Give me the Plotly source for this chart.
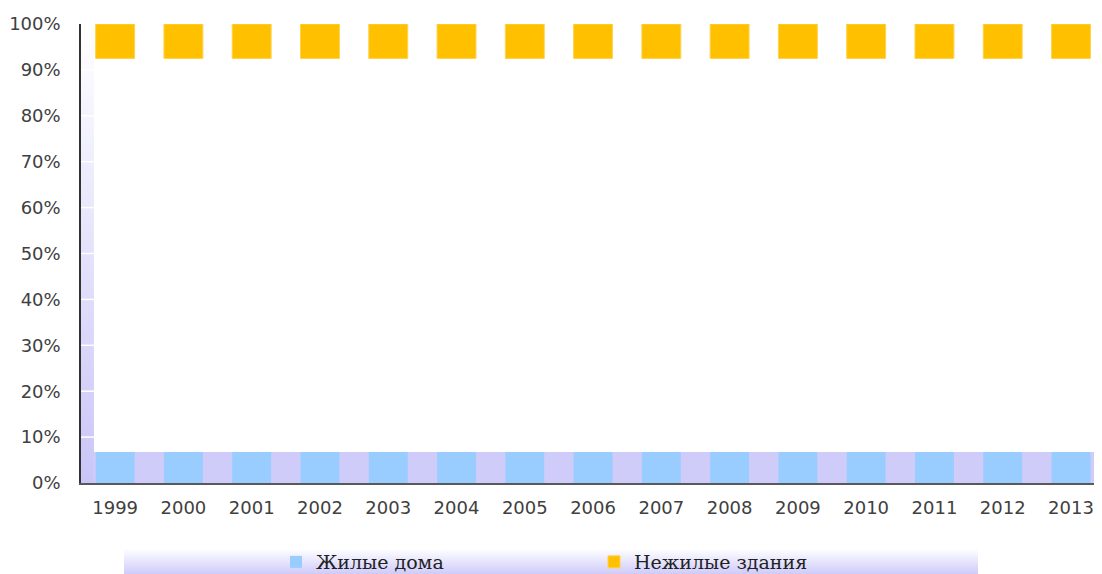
import plotly.graph_objects as go

years = ["1999", "2000", "2001", "2002", "2003", "2004", "2005", "2006",
         "2007", "2008", "2009", "2010", "2011", "2012", "2013"]
zhilye = [6.75, 6.75, 6.75, 6.75, 6.75, 6.75, 6.75, 6.75,
          6.75, 6.75, 6.75, 6.75, 6.75, 6.75, 6.75]
nezhilye = [7.5, 7.5, 7.5, 7.5, 7.5, 7.5, 7.5, 7.5,
            7.5, 7.5, 7.5, 7.5, 7.5, 7.5, 7.5]
y_ticks = [0, 10, 20, 30, 40, 50, 60, 70, 80, 90, 100]
y_labels = [f"{v}%" for v in y_ticks]

OFF = 8  # page body margin
W, H = 1102 - 2 * OFF, 574 - OFF
ML, MR, MT, MB = 81 - OFF, 0, 24 - OFF, 574 - 483
x_lo, x_hi = -0.5, 14.337
wall_w = 0.19
floor_h = 6.75

fig = go.Figure()

# left wall with vertical gradient
fig.add_trace(go.Scatter(
    x=[x_lo, x_lo + wall_w, x_lo + wall_w, x_lo, x_lo],
    y=[0, 0, 100, 100, 0],
    fill="toself", mode="none", hoverinfo="skip", showlegend=False,
    fillgradient=dict(type="vertical", start=0, stop=100,
                      colorscale=[[0, "#C9C5F8"], [1, "#FFFFFF"]]),
))

fig.add_trace(go.Bar(
    x=list(range(len(years))), y=zhilye, base=0, name="Жилые дома",
    marker=dict(color="#99CCFF", line=dict(width=0)), width=0.57,
))
fig.add_trace(go.Bar(
    x=list(range(len(years))), y=nezhilye,
    base=[100 - v for v in nezhilye], name="Нежилые здания",
    marker=dict(color="#FFC000", line=dict(color="#FFD24D", width=1)), width=0.57,
))

shapes = []
# floor
shapes.append(dict(type="rect", xref="x", yref="y", x0=x_lo + wall_w, x1=x_hi,
                   y0=0, y1=floor_h, fillcolor="#D0CCFA", line=dict(width=0),
                   layer="below"))
# white grid marks on wall
for t in y_ticks[1:-1]:
    shapes.append(dict(type="line", xref="x", yref="y", x0=x_lo, x1=x_lo + wall_w,
                       y0=t, y1=t, line=dict(color="white", width=1.5),
                       layer="above"))
# legend background gradient (reference pixel coords -> paper)
pw = W - ML - MR
ph = H - MT - MB
def px_x(px):
    return (px - OFF - ML) / pw
def px_y(py):
    return (H - MB - (py - OFF)) / ph
lx0, lx1 = px_x(124), px_x(978)
ly_top, ly_bot = px_y(548), px_y(574)
n = 26
c0 = (255, 255, 255)
c1 = (208, 204, 250)
for i in range(n):
    f = i / (n - 1)
    col = tuple(int(round(c0[k] + (c1[k] - c0[k]) * f)) for k in range(3))
    y1 = ly_top + (ly_bot - ly_top) * i / n
    y0 = ly_top + (ly_bot - ly_top) * (i + 1) / n
    shapes.append(dict(type="rect", xref="paper", yref="paper", x0=lx0, x1=lx1,
                       y0=y0, y1=y1, fillcolor="rgb(%d,%d,%d)" % col,
                       line=dict(width=0), layer="below"))

fig.update_layout(
    width=W, height=H,
    margin=dict(l=ML, r=MR, t=MT, b=MB, autoexpand=False),
    paper_bgcolor="white", plot_bgcolor="white",
    barmode="overlay",
    shapes=shapes,
    showlegend=True,
    legend=dict(orientation="h", xref="container", yref="container",
                x=(276 - OFF) / W, xanchor="left",
                y=(574 - 562) / H, yanchor="middle",
                bgcolor="rgba(0,0,0,0)", entrywidth=273, entrywidthmode="pixels",
                font=dict(family="DejaVu Serif", size=19, color="#222222"),
                itemwidth=30),
    xaxis=dict(range=[x_lo, x_hi], tickmode="array",
               tickvals=list(range(len(years))), ticktext=years,
               showgrid=False, zeroline=False, showline=True,
               linecolor="#595959", linewidth=1.5, ticks="",
               ticklabelstandoff=8, automargin=False,
               tickfont=dict(family="DejaVu Sans", size=18, color="#404040")),
    yaxis=dict(range=[0, 100], tickmode="array", tickvals=y_ticks,
               ticktext=y_labels, showgrid=False, zeroline=False,
               showline=True, linecolor="#333333", linewidth=1.5, ticks="",
               ticklabelstandoff=15, automargin=False,
               tickfont=dict(family="DejaVu Sans", size=18, color="#404040")),
)

fig.write_html("out.html")
